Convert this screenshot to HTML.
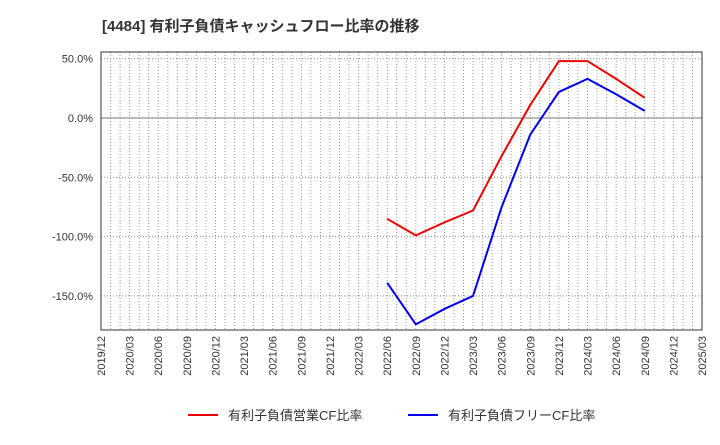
<!DOCTYPE html>
<html><head><meta charset="utf-8"><style>
body{margin:0;background:#fff;font-family:"Liberation Sans","Noto Sans CJK JP",sans-serif;}
</style></head><body>
<svg id="c" width="720" height="440" xmlns="http://www.w3.org/2000/svg">
<text x="102" y="31" font-size="15" font-weight="bold" fill="#333">[4484]  有利子負債キャッシュフロー比率の推移</text>
<g id="grid"></g><g id="axes"></g><g id="series"></g>
<g>
<line x1="188" y1="415" x2="218" y2="415" stroke="#e00" stroke-width="2"/>
<text x="228" y="420" font-size="13" fill="#333">有利子負債営業CF比率</text>
<line x1="408" y1="415" x2="438" y2="415" stroke="#00e" stroke-width="2"/>
<text x="448" y="420" font-size="13" fill="#333">有利子負債フリーCF比率</text>
</g>
</svg>
<script>
const xLabels=["2019/12","2020/03","2020/06","2020/09","2020/12","2021/03","2021/06","2021/09","2021/12","2022/03","2022/06","2022/09","2022/12","2023/03","2023/06","2023/09","2023/12","2024/03","2024/06","2024/09","2024/12","2025/03"];
const yTicks=[50,0,-50,-100,-150];
const seriesStart=10;
const operatingCF=[-85,-99,-88,-78,-32,11,48,48,33,17];
const freeCF=[-139,-174,-161,-150,-75,-14,22,33,20,6];
const L=101,R=702,T=52,B=330;
const NS="http://www.w3.org/2000/svg";
const xs=i=>L+(R-L)*i/(xLabels.length-1);
const ys=v=>118-v*59.3/50;
function mk(t,a,p){const e=document.createElementNS(NS,t);for(const k in a)e.setAttribute(k,a[k]);p.appendChild(e);return e;}
const g=document.getElementById('grid'),ax=document.getElementById('axes'),s=document.getElementById('series');
const frame=mk('rect',{x:L,y:T,width:R-L,height:B-T,fill:'none',stroke:'#333','stroke-width':1},ax);


for(let m=1;m<(xLabels.length-1)*3;m++){const x=xs(m/3);
const ln=mk('line',{x1:x,y1:T,x2:x,y2:B,stroke:'#999','stroke-dasharray':'1,2'},g);

}
xLabels.forEach((l,i)=>{const x=xs(i);
const t=mk('text',{x:x+4,y:B+6,'font-size':11,fill:'#333','text-anchor':'end',transform:`rotate(-90 ${x+4} ${B+6})`},ax);
t.textContent=l;

});
yTicks.forEach(v=>{const y=ys(v);
const ln=mk('line',v===0?{x1:L,y1:y,x2:R,y2:y,stroke:'#777'}:{x1:L,y1:y,x2:R,y2:y,stroke:'#888','stroke-dasharray':'1,2'},g);


const t=mk('text',{x:L-8,y:y+4,'font-size':11,fill:'#333','text-anchor':'end'},ax);
t.textContent=v.toFixed(1)+'%';

});
function line(d,c,n){const p=mk('polyline',{points:d.map((v,i)=>xs(seriesStart+i)+','+ys(v)).join(' '),fill:'none',stroke:c,'stroke-width':2},s);

}
line(operatingCF,'#e00','operating-cf-line');
line(freeCF,'#00e','free-cf-line');
</script>
</body></html>
